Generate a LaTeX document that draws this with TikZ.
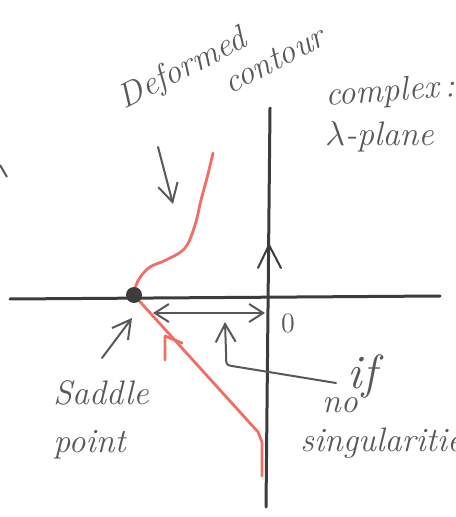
\documentclass[tikz,border=0pt]{standalone}
\usetikzlibrary{arrows.meta}
\definecolor{ink}{RGB}{88,88,88}
\definecolor{axisink}{RGB}{60,60,60}
\definecolor{redpen}{RGB}{240,110,100}

\begin{document}
\begin{tikzpicture}[x=0.5pt, y=-0.5pt,
    axis/.style={draw=axisink, line width=1.5pt, line cap=round},
    pointer/.style={draw=ink, line width=1pt, line cap=round, line join=round, -{Straight Barb[length=9pt, width=10pt]}},
    contour/.style={draw=redpen, line width=1.4pt, line cap=round, line join=round},
    hand/.style={text=ink, font=\fontsize{17}{20}\selectfont\itshape, inner sep=0pt}]

    \useasboundingbox (0,0) rectangle (455,517);

    % punkty
    \coordinate (saddle) at (134,295);
    \coordinate (dtail) at (158,147);
    \coordinate (dtip) at (173,204);
    \coordinate (lefttip) at (153,313);
    \coordinate (righttip) at (265,313);
    \coordinate (stail) at (102,358);
    \coordinate (stip) at (132,318);
    \coordinate (iftail) at (336,383);
    \coordinate (iftip) at (225,322);

    % kontur
    \draw[contour] plot[smooth, tension=0.6] coordinates {(213,153) (207,178) (201,200) (195,225) (185,248) (166,260) (150,267) (139,279) (133,294)}
        -- (258,432) -- (262,442) -- (262,476);
    \draw[contour] (182,343) -- (165,336) -- (165,360);

    % osie
    \draw[axis] (10,299) -- (440,296);
    \draw[axis] (270,108) -- (266,507);
    \draw[axis, line width=1pt] (258,268) -- (269,245) -- (281,268);
    \fill[axisink] (saddle) circle (8);
    \node[hand, font=\fontsize{14}{16}\selectfont] (origin) at (288,323) {0};

    % strzalki
    \draw[pointer] (dtail) -- (dtip);
    \draw[pointer, {Straight Barb[length=7pt, width=9pt]}-{Straight Barb[length=7pt, width=9pt]}] (lefttip) -- (righttip);
    \draw[pointer] (stail) -- (stip);
    \draw[pointer] (iftail) -- (232,366) .. controls (226,365) .. (226,352) -- (iftip);
    \draw[draw=ink, line width=1pt] (0,165) -- (7,177);

    % napisy
    \node[hand, rotate=27] (deformed) at (183,70) {Deformed};
    \node[hand, rotate=27] (contourtxt) at (274,60) {contour};
    \node[hand, rotate=4, anchor=west] (complextxt) at (325,97) {complex\,:};
    \node[hand, anchor=west] (planetxt) at (325,137) {$\lambda$-plane};
    \node[hand, anchor=west] (saddletxt) at (53,393) {Saddle};
    \node[hand, anchor=west] (pointtxt) at (53,445) {point};
    \node[hand, font=\fontsize{24}{28}\selectfont\itshape] (iftxt) at (362,376) {if};
    \node[hand] (notxt) at (340,405) {no};
    \node[hand, anchor=west] (singtxt) at (300,443) {singularities};

\end{tikzpicture}
\end{document}
